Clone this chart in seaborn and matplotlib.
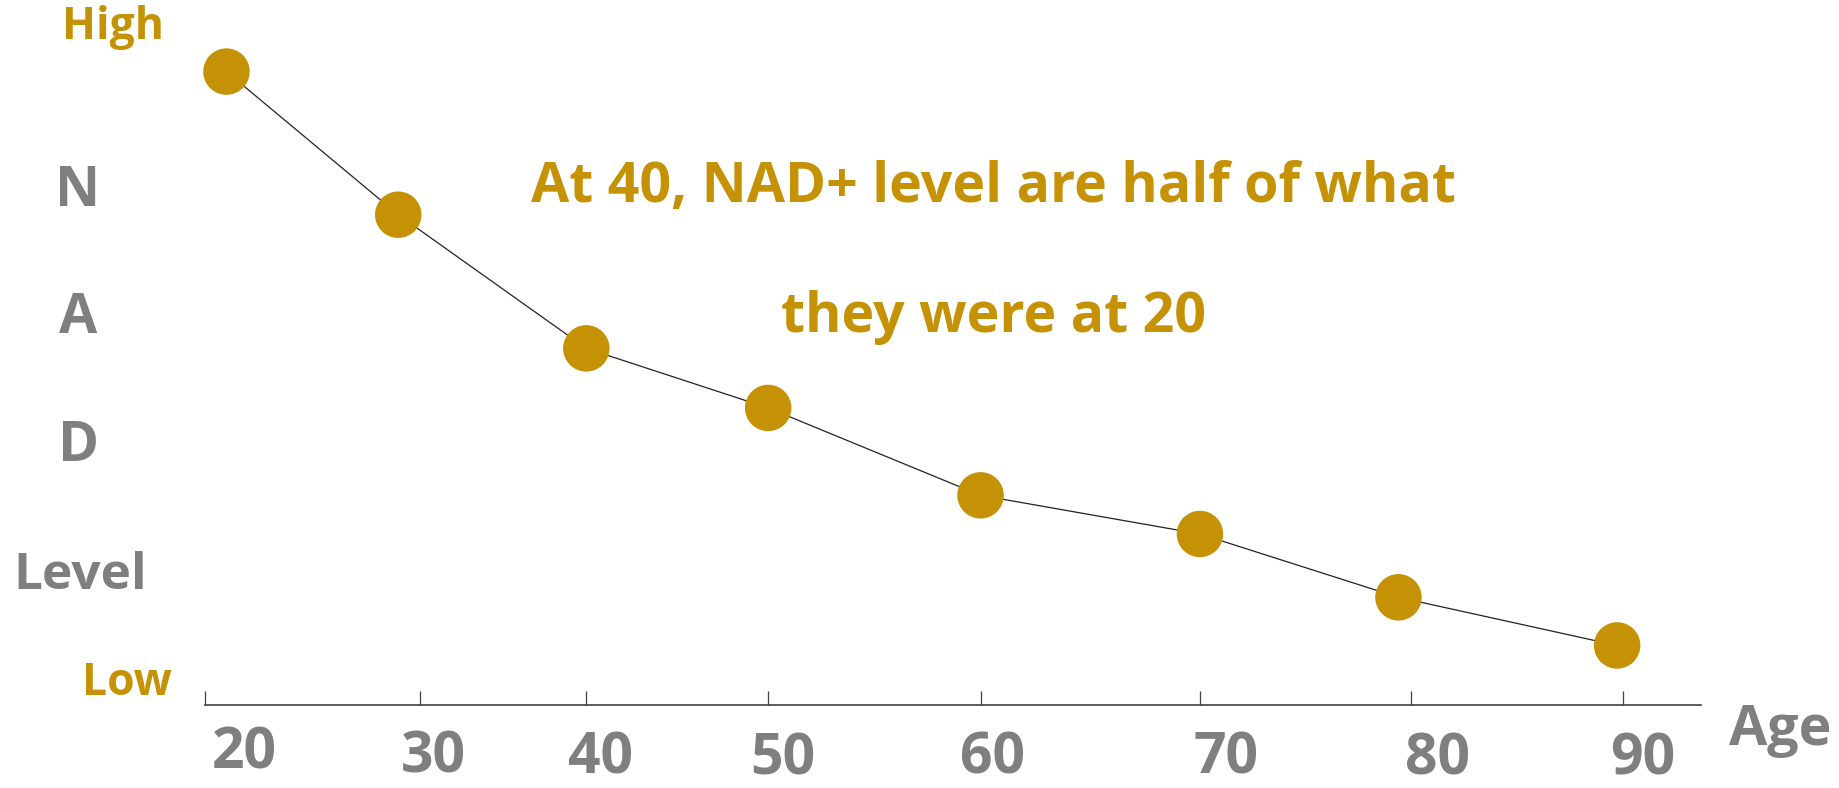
import numpy as np
import pandas as pd
import matplotlib
matplotlib.use('Agg')
import matplotlib.pyplot as plt
import seaborn as sns
from matplotlib.transforms import ScaledTranslation

# data: NAD+ level relative to age 20 (=100)
ages = [21.0, 29.0, 40, 50, 60, 70, 79.4, 89.7]
nad_level = [100, 77.4, 56.3, 46.9, 33.1, 27.0, 17.0, 9.4]
tick_ages = [20, 30, 40, 50, 60, 70, 80, 90]
tick_labels = ['20', '30', '40', '50', '60', '70', '80', '90']
note_lines = ['At 40, NAD+ level are half of what', 'they were at 20']
y_words = ['N', 'A', 'D', 'Level']

GOLD = '#C59105'
GREY = '#7F7F7F'

# the hand drawn axis has uneven tick spacing -> piecewise scale (pixels along axis)
anchor_ages = [20, 30, 40, 50, 60, 70, 80, 90, 100]
anchor_offs = [0, 183, 325, 480, 661, 848, 1028, 1209, 1390]

def fwd(a):
    return np.interp(a, anchor_ages, anchor_offs)

def inv(o):
    return np.interp(o, anchor_offs, anchor_ages)

df = pd.DataFrame({'age': ages, 'nad': nad_level})

sns.set_theme(style='white')
plt.rcParams['font.family'] = ['Open Sans', 'DejaVu Sans']
plt.rcParams['font.weight'] = 'bold'

W, H = 1839, 788
fig = plt.figure(figsize=(W / 100, H / 100), dpi=100)
ax = fig.add_axes([205 / W, 1 - 705 / H, (1701 - 205) / W, 705 / H])
ax.set_xscale('function', functions=(fwd, inv))

sns.lineplot(data=df, x='age', y='nad', color='#222222', linewidth=0.9, ax=ax, zorder=2)
sns.scatterplot(data=df, x='age', y='nad', s=1120, color=GOLD, edgecolor='none', ax=ax, zorder=3)
for coll in ax.collections:
    coll.set_clip_on(False)

ax.set_xlim(20, 93.65)
ax.set_ylim(0, 111.3)
ax.set_xlabel('')
ax.set_ylabel('')
ax.set_yticks([])
ax.set_xticks(tick_ages)
ax.set_xticklabels(tick_labels)
ax.minorticks_off()
sns.despine(ax=ax, left=True, top=True, right=True)
ax.spines['bottom'].set_color('#404040')
ax.spines['bottom'].set_linewidth(1.2)
ax.tick_params(axis='x', bottom=True, direction='in', length=10, width=0.9, color='#404040',
               pad=14, labelsize=41, labelcolor=GREY)

# tick labels sit a bit off their ticks in the original (px right, px down)
nudges = [(39, 0), (14, 4), (14, 5), (15, 6), (12, 5), (26, 5), (26, 6), (19, 6)]
for lab, (dx, dy) in zip(ax.get_xticklabels(), nudges):
    lab.set_fontweight('bold')
    lab.set_transform(lab.get_transform() + ScaledTranslation(dx / 100, -dy / 100, fig.dpi_scale_trans))

def px_text(x, y, s, **kw):
    fig.text(x / W, 1 - y / H, s, ha='center', va='baseline', fontweight='bold', **kw)

px_text(113, 39, 'High', color=GOLD, fontsize=32)
px_text(127, 695, 'Low', color=GOLD, fontsize=32)
for word, (x, y), fs in zip(y_words, [(78, 206), (78, 333), (79, 461), (80, 589)], [40, 40, 40, 37]):
    px_text(x, y, word, color=GREY, fontsize=fs)
px_text(1780, 745, 'Age', color=GREY, fontsize=40)
px_text(993, 202, note_lines[0], color=GOLD, fontsize=40)
px_text(993, 332, note_lines[1], color=GOLD, fontsize=40)

fig.savefig('out.png', dpi=100)
